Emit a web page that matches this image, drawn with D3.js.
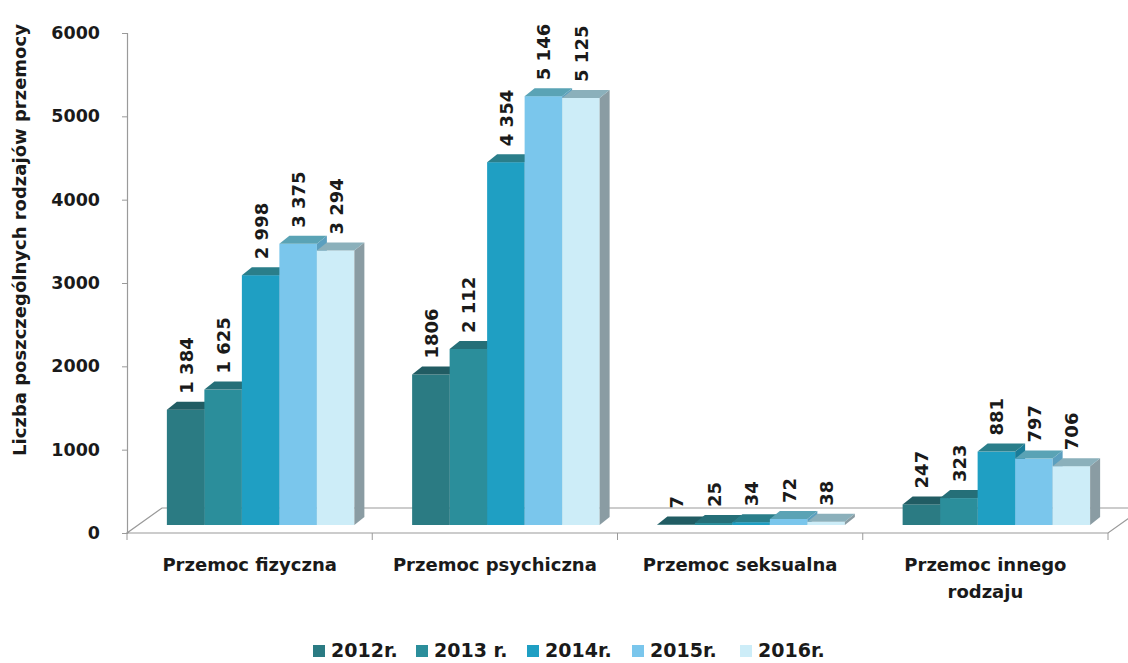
<!DOCTYPE html>
<html><head><meta charset="utf-8">
<script src="https://cdn.jsdelivr.net/npm/d3@7"></script>
<style>body{margin:0;background:#fff}svg{display:block}text{font-family:"DejaVu Sans",sans-serif;font-weight:bold;fill:#1a1a1a}</style>
</head><body><svg id="c" width="1128" height="663"></svg>
<script>
const categories = ["Przemoc fizyczna","Przemoc psychiczna","Przemoc seksualna","Przemoc innego rodzaju"];
const categoryLines = [["Przemoc fizyczna"],["Przemoc psychiczna"],["Przemoc seksualna"],["Przemoc innego","rodzaju"]];
const years = ["2012r.","2013 r.","2014r.","2015r.","2016r."];
const values2012 = [1384,1806,7,247];
const values2013 = [1625,2112,25,323];
const values2014 = [2998,4354,34,881];
const values2015 = [3375,5146,72,797];
const values2016 = [3294,5125,38,706];
const labels2012 = ["1 384","1806","7","247"];
const labels2013 = ["1 625","2 112","25","323"];
const labels2014 = ["2 998","4 354","34","881"];
const labels2015 = ["3 375","5 146","72","797"];
const labels2016 = ["3 294","5 125","38","706"];
const yTicks = [0,1000,2000,3000,4000,5000,6000];
const yTitle = "Liczba poszczególnych rodzajów przemocy";

const seriesValues = [values2012,values2013,values2014,values2015,values2016];
const seriesLabels = [labels2012,labels2013,labels2014,labels2015,labels2016];
const front = ["#2b7b83","#2b8e9b","#1f9fc3","#7ac6ec","#cdedf8"];
const top_ = ["#215c63","#256f78","#2a7e8a","#5aa3b5","#8bb0bb"];
const side = ["#1f5a60","#216a73","#1a7c98","#5b9fbf","#8a9ca3"];

const svg = d3.select("#c");
const left = 127, right = 1108, floorY = 533;
const y = d3.scaleLinear().domain([0,6000]).range([floorY,33]);
const x0 = d3.scaleBand().domain(categories).range([left,right]);
const bw = x0.bandwidth(), gw = 187.5;
const x1 = d3.scaleBand().domain(years).range([(bw-gw)/2,(bw+gw)/2]);
const fdx = 35, fdy = -25;      // floor depth
const bOffX = 11, bOffY = -8;    // bar front offset from floor front
const ddx = 10, ddy = -8;        // bar depth

// floor
const g = svg.append("g");
g.append("path").attr("d",`M${left},${floorY}L${right},${floorY}L${right+fdx},${floorY+fdy}L${left+fdx},${floorY+fdy}Z`)
  .attr("fill","#fff").attr("stroke","#9a9a9a").attr("stroke-width",1.2);
categories.forEach((c)=>{
  g.append("line").attr("x1",x0(c)).attr("x2",x0(c)).attr("y1",floorY).attr("y2",floorY+7).attr("stroke","#9a9a9a");
});
g.append("line").attr("x1",right).attr("x2",right).attr("y1",floorY).attr("y2",floorY+7).attr("stroke","#9a9a9a");

// axis
const ax = svg.append("g").attr("transform",`translate(${left},0)`)
  .call(d3.axisLeft(y).tickValues(yTicks).tickSize(5).tickPadding(22).tickFormat(d3.format("d")));
ax.select(".domain").attr("stroke","#9a9a9a").attr("stroke-width",1.2);
ax.selectAll(".tick line").attr("stroke","#9a9a9a");
ax.selectAll(".tick text").attr("font-size",17.5).attr("font-family","DejaVu Sans").attr("font-weight","bold").attr("fill","#1a1a1a");

svg.append("text").attr("transform",`translate(26,${240}) rotate(-90)`).attr("text-anchor","middle")
  .attr("font-size",18).text(yTitle);

// bars
const bars = svg.append("g");
categories.forEach((c,ci)=>{
  years.forEach((yr,si)=>{
    const v = seriesValues[si][ci];
    const xl = x0(c)+x1(yr)+bOffX, w = x1.bandwidth();
    const yb = y(0)+bOffY, yt = y(v)+bOffY;
    bars.append("rect").attr("x",xl).attr("y",yt).attr("width",w).attr("height",yb-yt).attr("fill",front[si]);
    bars.append("path").attr("d",`M${xl+w},${yt}L${xl+w+ddx},${yt+ddy}L${xl+w+ddx},${yb+ddy}L${xl+w},${yb}Z`).attr("fill",side[si]);
    bars.append("path").attr("d",`M${xl},${yt}L${xl+w},${yt}L${xl+w+ddx},${yt+ddy}L${xl+ddx},${yt+ddy}Z`).attr("fill",top_[si]);
  });
});
// value labels
categories.forEach((c,ci)=>{
  years.forEach((yr,si)=>{
    const v = seriesValues[si][ci];
    const cx = x0(c)+x1(yr)+bOffX+x1.bandwidth()/2+0.5;
    const yt = y(v)+bOffY+ddy-8;
    svg.append("text").attr("transform",`translate(${cx+6.5},${yt}) rotate(-90)`).attr("font-size",18)
      .text(seriesLabels[si][ci]);
  });
});
// category labels
categories.forEach((c,ci)=>{
  const t = svg.append("text").attr("text-anchor","middle").attr("font-size",18);
  categoryLines[ci].forEach((ln,li)=>{
    t.append("tspan").attr("x",x0(c)+bw/2).attr("y",571+li*27).text(ln);
  });
});
// legend
const legX = [313,416,527,632,740];
years.forEach((yr,si)=>{
  svg.append("rect").attr("x",legX[si]).attr("y",645).attr("width",12).attr("height",12).attr("fill",front[si]);
  svg.append("text").attr("x",legX[si]+18).attr("y",657).attr("font-size",19).text(yr);
});
</script></body></html>
